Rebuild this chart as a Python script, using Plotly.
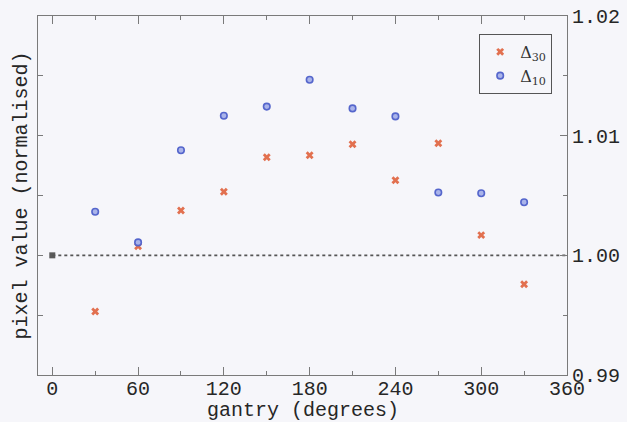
import plotly.graph_objects as go

# gantry angles (degrees) and normalised pixel values
gantry = [30, 60, 90, 120, 150, 180, 210, 240, 270, 300, 330]
delta30 = [0.99531, 1.00075, 1.00375, 1.00531, 1.00819, 1.00836,
           1.00928, 1.00628, 1.00936, 1.00169, 0.99758]
delta10 = [1.00364, 1.00108, 1.00878, 1.01167, 1.01243, 1.01467,
           1.01228, 1.01161, 1.00525, 1.00519, 1.00444]

# reference point at 0 degrees and the unit baseline
ref_angle = [0]
ref_value = [1.0]
baseline_x = [0, 360]
baseline_y = [1.0, 1.0]

x_ticks = [0, 60, 120, 180, 240, 300, 360]
y_ticks = [0.99, 1.00, 1.01, 1.02]
y_ticklabels = ["0.99", "1.00", "1.01", "1.02"]

mono = "Liberation Mono, Courier New, monospace"
ink = "#262626"
axis_col = "#7a7a7a"
bg = "#f6f6fa"

fig = go.Figure()

fig.add_trace(go.Scatter(
    x=baseline_x, y=baseline_y, yaxis="y2", mode="lines",
    line=dict(color="#555555", width=1.6, dash="dot"),
    showlegend=False, hoverinfo="skip"))

fig.add_trace(go.Scatter(
    x=ref_angle, y=ref_value, mode="markers",
    marker=dict(symbol="square", size=6, color="#5a5a5a"),
    showlegend=False))

fig.add_trace(go.Scatter(
    x=gantry, y=delta30, mode="markers", name="Δ<sub>30</sub>",
    marker=dict(symbol="x", size=7, color="#e2704f",
                line=dict(width=0))))

fig.add_trace(go.Scatter(
    x=gantry, y=delta10, mode="markers", name="Δ<sub>10</sub>",
    marker=dict(symbol="circle", size=6.5, color="#aab4ea",
                line=dict(color="#5566cc", width=1.6))))

fig.update_layout(
    width=627, height=422,
    margin=dict(l=38, r=60, t=16, b=47),
    paper_bgcolor=bg, plot_bgcolor=bg,
    font=dict(family=mono, size=20, color=ink),
    xaxis=dict(
        range=[-10, 360], automargin=False,
        tickmode="array", tickvals=x_ticks,
        ticks="inside", ticklen=8, tickwidth=1, tickcolor=axis_col,
        ticklabelstandoff=-5,
        minor=dict(dtick=30, tick0=0, ticks="inside", ticklen=4,
                   tickcolor=axis_col, showgrid=False),
        showline=True, linecolor=axis_col, linewidth=1, mirror="ticks",
        showgrid=False, zeroline=False,
        tickfont=dict(family=mono, size=20, color=ink),
    ),
    yaxis=dict(
        range=[0.99, 1.02], automargin=False,
        tickmode="array", tickvals=[0.99, 0.995, 1.0, 1.005, 1.01, 1.015, 1.02],
        ticks="inside", ticklen=5, tickcolor=axis_col,
        showticklabels=False,
        showline=True, linecolor=axis_col, linewidth=1,
        showgrid=False, zeroline=False,
        title=dict(text="pixel value (normalised)", standoff=4,
                   font=dict(family=mono, size=20, color=ink)),
    ),
    yaxis2=dict(
        range=[0.99, 1.02], overlaying="y", side="right", automargin=False,
        tickmode="array", tickvals=y_ticks, ticktext=y_ticklabels,
        ticks="inside", ticklen=7, tickcolor=axis_col,
        minor=dict(tickvals=[0.995, 1.005, 1.015], ticks="inside",
                   ticklen=4, tickcolor=axis_col),
        showline=True, linecolor=axis_col, linewidth=1,
        showgrid=False, zeroline=False,
        tickfont=dict(family=mono, size=20, color=ink),
    ),
    legend=dict(
        x=0.834, y=0.95, xanchor="left", yanchor="top",
        bgcolor=bg, bordercolor="#555555", borderwidth=1,
        font=dict(family="DejaVu Serif, Liberation Serif, serif", size=16,
                  color="#333333"),
        itemwidth=30, tracegroupgap=0,
    ),
    annotations=[dict(
        text="gantry (degrees)", xref="paper", yref="paper",
        x=0.5, y=0, yshift=-35, xanchor="center", yanchor="middle",
        showarrow=False, font=dict(family=mono, size=20, color=ink),
    )],
)

fig.write_html("out.html")
